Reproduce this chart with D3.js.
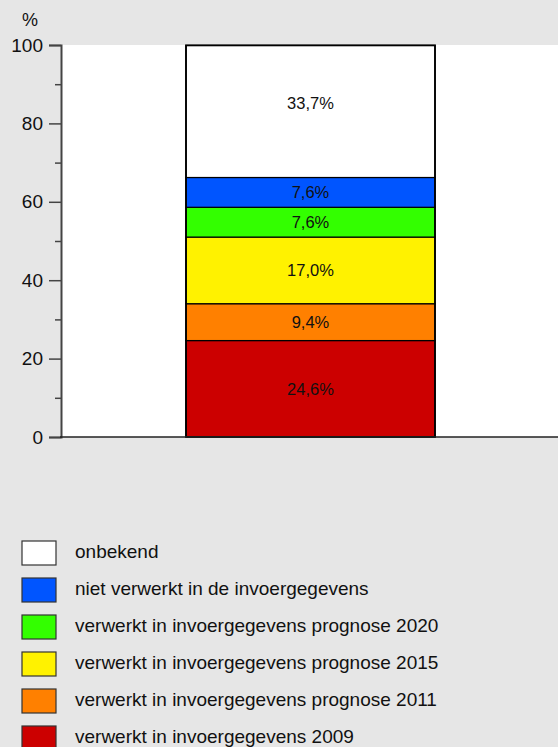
<!DOCTYPE html>
<html>
<head>
<meta charset="utf-8">
<script src="https://cdn.jsdelivr.net/npm/d3@7"></script>
<style>
  body { margin: 0; background: #e6e6e6; }
  text { font-family: "Liberation Sans", Arial, sans-serif; }
</style>
</head>
<body>
<script>
'use strict';

// categories from bottom to top of the stack
const categories = [
  "verwerkt in invoergegevens 2009",
  "verwerkt in invoergegevens prognose 2011",
  "verwerkt in invoergegevens prognose 2015",
  "verwerkt in invoergegevens prognose 2020",
  "niet verwerkt in de invoergegevens",
  "onbekend"
];
const values = [24.6, 9.4, 17.0, 7.6, 7.6, 33.7];
const colors = ["#cc0000", "#ff8000", "#fff200", "#33ff00", "#0055ff", "#ffffff"];
const yTicks = [0, 20, 40, 60, 80, 100];
const yMinorTicks = [10, 30, 50, 70, 90];

const width = 558, height = 747;

let svg = d3.select("body").append("svg")
  .attr("width", width)
  .attr("height", height);

// plot area
const plot = { left: 61, right: 558, top: 45, bottom: 437 };

svg.append("rect")
  .attr("x", plot.left)
  .attr("y", plot.top)
  .attr("width", plot.right - plot.left)
  .attr("height", plot.bottom - plot.top)
  .attr("fill", "#fff");

let yScale = d3.scaleLinear()
  .domain([0, 100])
  .range([plot.bottom, plot.top]);

// single bar, placed by a band scale
let xScale = d3.scaleBand()
  .domain(["bar"])
  .range([186, 435]);

// stack values
let stacked = [];
let acc = 0;
values.forEach((v, i) => {
  stacked.push({ y0: acc, y1: acc + v, value: v, color: colors[i], name: categories[i] });
  acc += v;
});

let bx = xScale("bar");
let bw = xScale.bandwidth();

svg.selectAll(".seg")
  .data(stacked)
  .enter()
  .append("rect")
    .attr("class", "seg")
    .attr("x", bx)
    .attr("y", d => yScale(d.y1))
    .attr("width", bw)
    .attr("height", d => yScale(d.y0) - yScale(d.y1))
    .attr("fill", d => d.color)
    .attr("stroke", "#000")
    .attr("stroke-width", 1.2);

// outline of whole bar
svg.append("rect")
  .attr("x", bx)
  .attr("y", yScale(acc))
  .attr("width", bw)
  .attr("height", yScale(0) - yScale(acc))
  .attr("fill", "none")
  .attr("stroke", "#000")
  .attr("stroke-width", 1.8);

// value labels
svg.selectAll(".lbl")
  .data(stacked)
  .enter()
  .append("text")
    .attr("class", "lbl")
    .attr("x", bx + bw / 2)
    .attr("y", d => (yScale(d.y0) + yScale(d.y1)) / 2 + (d.name === "onbekend" ? -8 : 0))
    .attr("dy", "0.35em")
    .attr("text-anchor", "middle")
    .style("font-size", "16.5px")
    .attr("fill", "#111")
    .text(d => d.value.toFixed(1).replace(".", ",") + "%");

// y axis
let yAxis = d3.axisLeft(yScale)
  .tickValues(yTicks)
  .tickSize(12)
  .tickPadding(6)
  .tickFormat(d3.format("d"));

let gy = svg.append("g")
  .attr("transform", `translate(${plot.left}, 0)`)
  .call(yAxis);
gy.select(".domain").attr("stroke", "#444").attr("stroke-width", 2);
gy.selectAll(".tick line").attr("stroke", "#444").attr("stroke-width", 1.5);
gy.selectAll(".tick text")
  .style("font-size", "19px")
  .attr("fill", "#111")
  .style("font-family", "'Liberation Sans', Arial, sans-serif");

let yMinor = d3.axisLeft(yScale)
  .tickValues(yMinorTicks)
  .tickSize(6)
  .tickFormat("");
let gym = svg.append("g")
  .attr("transform", `translate(${plot.left}, 0)`)
  .call(yMinor);
gym.select(".domain").remove();
gym.selectAll(".tick line").attr("stroke", "#444").attr("stroke-width", 1.5);

// x axis baseline
svg.append("line")
  .attr("x1", plot.left - 1)
  .attr("x2", plot.right)
  .attr("y1", yScale(0))
  .attr("y2", yScale(0))
  .attr("stroke", "#222")
  .attr("stroke-width", 1.5);

// unit label
svg.append("text")
  .attr("x", 22)
  .attr("y", 26)
  .style("font-size", "18px")
  .attr("fill", "#111")
  .text("%");

// legend (top item first)
let legendData = stacked.slice().reverse();
let legend = svg.selectAll(".leg")
  .data(legendData)
  .enter()
  .append("g")
    .attr("class", "leg")
    .attr("transform", (d, i) => `translate(22, ${541 + i * 37})`);

legend.append("rect")
  .attr("width", 34)
  .attr("height", 24)
  .attr("fill", d => d.color)
  .attr("stroke", "#333")
  .attr("stroke-width", 1.2);

legend.append("text")
  .attr("x", 53)
  .attr("y", 10)
  .attr("dy", "0.35em")
  .style("font-size", "19px")
  .attr("fill", "#111")
  .text(d => d.name);
</script>
</body>
</html>
